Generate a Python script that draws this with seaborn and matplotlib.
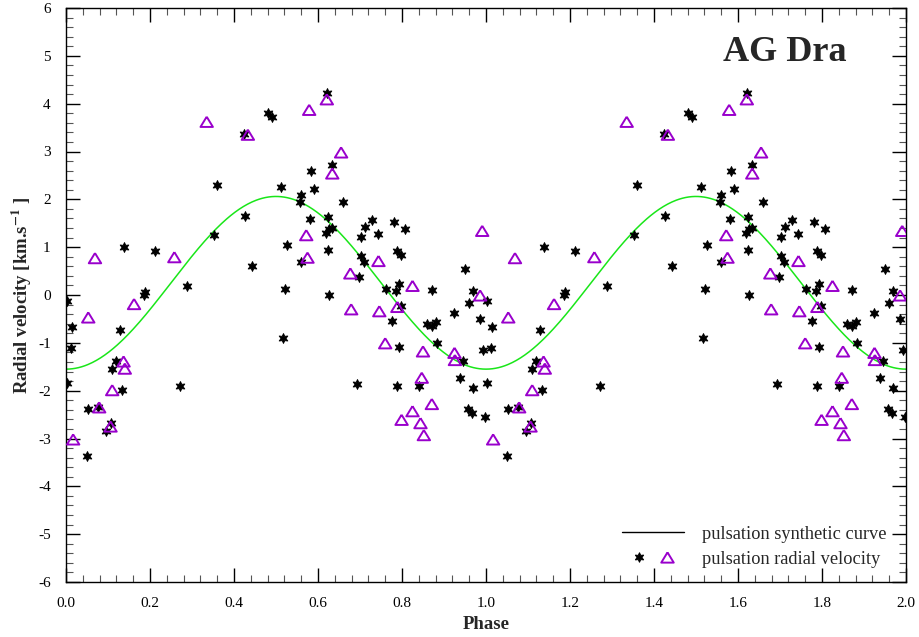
import numpy as np
import pandas as pd
import matplotlib
matplotlib.use("Agg")
import matplotlib.pyplot as plt
import seaborn as sns
from matplotlib.lines import Line2D
from matplotlib.legend_handler import HandlerTuple
from matplotlib.ticker import MultipleLocator

# ---------------- data (phase 0..1, repeated over 1..2) ----------------
star_phase = [0.138, 0.212, 0.003, 0.188, 0.185, 0.014, 0.129, 0.012, 0.119, 0.110,
              0.002, 0.134, 0.052, 0.075, 0.106, 0.095, 0.049, 0.482, 0.490, 0.425,
              0.360, 0.426, 0.353, 0.442, 0.287, 0.272, 0.621, 0.583, 0.633, 0.513,
              0.590, 0.559, 0.557, 0.659, 0.581, 0.624, 0.633, 0.627, 0.618, 0.729,
              0.713, 0.702, 0.744, 0.527, 0.625, 0.560, 0.703, 0.710, 0.698, 0.521,
              0.626, 0.517, 0.693, 0.780, 0.806, 0.789, 0.797, 0.794, 0.763, 0.785,
              0.797, 0.872, 0.777, 0.792, 0.860, 0.872, 0.880, 0.884, 0.787, 0.841,
              0.950, 0.970, 0.960, 0.924, 0.986, 0.994, 0.946, 0.938, 0.968, 0.958,
              0.967, 0.998]
star_rv = [1.00, 0.92, -0.12, 0.06, -0.01, -0.66, -0.73, -1.10, -1.38, -1.55,
           -1.83, -1.99, -2.39, -2.35, -2.68, -2.84, -3.37, 3.80, 3.73, 3.36,
           2.31, 1.65, 1.25, 0.61, 0.19, -1.90, 4.22, 2.59, 2.72, 2.26,
           2.21, 2.09, 1.95, 1.94, 1.58, 1.64, 1.41, 1.38, 1.29, 1.57,
           1.42, 1.22, 1.28, 1.05, 0.95, 0.68, 0.82, 0.70, 0.37, 0.13,
           0.00, -0.89, -1.86, 1.52, 1.37, 0.93, 0.84, 0.24, 0.12, 0.08,
           -0.22, 0.10, -0.54, -1.08, -0.61, -0.65, -0.57, -1.00, -1.90, -1.90,
           0.54, 0.08, -0.17, -0.38, -0.50, -1.16, -1.39, -1.74, -1.95, -2.39,
           -2.47, -2.56]

tri_phase = [0.069, 0.258, 0.053, 0.162, 0.137, 0.140, 0.110, 0.079, 0.106, 0.017,
             0.335, 0.433, 0.621, 0.579, 0.655, 0.634, 0.572, 0.575, 0.677, 0.679,
             0.991, 0.744, 0.825, 0.986, 0.789, 0.746, 0.760, 0.850, 0.925, 0.926,
             0.847, 0.871, 0.825, 0.799, 0.844, 0.852]
tri_rv = [0.77, 0.79, -0.47, -0.19, -1.39, -1.54, -1.99, -2.35, -2.75, -3.02,
          3.62, 3.35, 4.09, 3.87, 2.98, 2.54, 1.25, 0.78, 0.45, -0.30,
          1.34, 0.71, 0.19, -0.01, -0.25, -0.34, -1.01, -1.18, -1.21, -1.36,
          -1.73, -2.28, -2.43, -2.61, -2.68, -2.93]

# synthetic pulsation curve parameters (systemic velocity, semi-amplitude)
gamma_v = 0.255
K_amp = 1.805

x_ticks = [0.0, 0.2, 0.4, 0.6, 0.8, 1.0, 1.2, 1.4, 1.6, 1.8, 2.0]
y_ticks = [-6, -5, -4, -3, -2, -1, 0, 1, 2, 3, 4, 5, 6]

# ---------------- build tables ----------------
stars = pd.DataFrame({"phase": np.concatenate([star_phase, np.array(star_phase) + 1]),
                      "rv": np.concatenate([star_rv, star_rv])})
tris = pd.DataFrame({"phase": np.concatenate([tri_phase, np.array(tri_phase) + 1]),
                     "rv": np.concatenate([tri_rv, tri_rv])})
ph = np.linspace(0, 2, 801)
curve = pd.DataFrame({"phase": ph, "rv": gamma_v - K_amp * np.cos(2 * np.pi * ph)})

# ---------------- style ----------------
sns.set_style("ticks")
plt.rcParams["font.family"] = ["Liberation Serif", "DejaVu Serif"]
plt.rcParams["mathtext.fontset"] = "stix"

fig = plt.figure(figsize=(9.2, 6.37), dpi=100)
ax = fig.add_axes([66 / 920, 1 - 582 / 637, 840 / 920, 574 / 637])

green = "#19e619"
purple = "#9900cc"

sns.lineplot(data=curve, x="phase", y="rv", ax=ax, color=green, linewidth=1.1,
             legend=False, zorder=2)

star_marker = (6, 1, 0)
sns.scatterplot(data=stars, x="phase", y="rv", ax=ax, marker=star_marker, s=50,
                color="black", edgecolor="black", linewidth=0.7, legend=False, zorder=3)

tri_marker = [(0, 0.82), (-1, -0.82), (1, -0.82), (0, 0.82)]
ax.scatter(tris["phase"], tris["rv"], marker=tri_marker, s=80, facecolors="none",
           edgecolors=purple, linewidths=1.4, zorder=4)

# ---------------- axes ----------------
ax.set_xlim(0, 2)
ax.set_ylim(-6, 6)
ax.set_xticks(x_ticks)
ax.set_xticklabels([f"{t:.1f}" for t in x_ticks])
ax.set_yticks(y_ticks)
ax.set_yticklabels([str(t) for t in y_ticks])
ax.xaxis.set_minor_locator(MultipleLocator(0.04))
ax.yaxis.set_minor_locator(MultipleLocator(0.2))
ax.tick_params(which="both", direction="in", top=True, right=True, labelsize=11,
               colors="black")
ax.tick_params(which="major", length=10, width=1)
ax.tick_params(which="minor", length=5, width=0.8, color="#555555")
ax.tick_params(axis="x", pad=11)
ax.tick_params(axis="y", pad=11)
for s in ax.spines.values():
    s.set_visible(True)
    s.set_linewidth(1.0)
    s.set_color("black")

ax.set_xlabel("Phase", fontsize=13.5, fontweight="bold", labelpad=4)
ax.set_ylabel(r"Radial velocity [km.s$^{\mathbf{-1}}$ ]", fontsize=13.5,
              fontweight="bold", labelpad=3)

ax.text(0.856, 0.923, "AG Dra", transform=ax.transAxes, fontsize=26,
        fontweight="bold", ha="center", va="center")

# ---------------- legend ----------------
h_line = Line2D([], [], color="black", linewidth=1.0)
h_star = Line2D([], [], linestyle="none", marker=star_marker, markersize=7,
                color="black", markeredgewidth=0.7)
h_tri = Line2D([], [], linestyle="none", marker=tri_marker, markersize=9,
               markerfacecolor="none", markeredgecolor=purple, markeredgewidth=1.4)
leg = ax.legend([h_line, (h_star, h_tri)],
                ["pulsation synthetic curve", "pulsation radial velocity"],
                handler_map={tuple: HandlerTuple(ndivide=None, pad=-0.3)},
                loc="lower right", bbox_to_anchor=(0.985, 0.012), borderaxespad=0,
                frameon=False, fontsize=13.2, handlelength=3.4, handletextpad=0.95,
                labelspacing=0.45)

fig.savefig("out.png", dpi=100)
